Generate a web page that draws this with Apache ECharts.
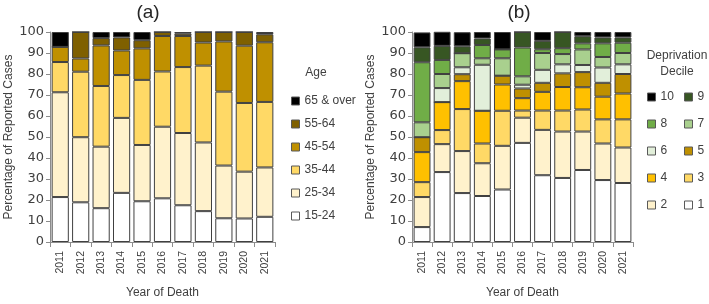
<!DOCTYPE html>
<html>
<head>
<meta charset="utf-8">
<script src="https://cdn.jsdelivr.net/npm/echarts@6/dist/echarts.min.js"></script>
<style>
  html, body { margin: 0; padding: 0; background: #fff; }
  #chart { width: 709px; height: 304px; }
</style>
</head>
<body>
<div id="chart"></div>
<script>
// years on the x axis (both panels)
const years = ['2011', '2012', '2013', '2014', '2015', '2016', '2017', '2018', '2019', '2020', '2021'];
const yTicks = [0, 10, 20, 30, 40, 50, 60, 70, 80, 90, 100];

// (a) age groups, % of reported cases, bottom -> top
const ageNames = ['15-24', '25-34', '35-44', '45-54', '55-64', '65 & over'];
const age15to24 = [21.4, 18.9, 16.1, 23.4, 19.4, 20.8, 17.5, 14.7, 11.3, 11.2, 12.0];
const age25to34 = [49.9, 31.0, 29.3, 35.7, 26.8, 34.1, 34.4, 32.7, 25.1, 22.3, 23.5];
const age35to44 = [14.4, 31.2, 28.9, 20.4, 31.0, 26.3, 31.4, 36.6, 35.2, 32.7, 31.2];
const age45to54 = [7.2, 6.3, 19.3, 11.7, 15.0, 16.9, 14.8, 11.0, 23.9, 27.3, 28.4];
const age55to64 = [0, 12.6, 3.5, 6.2, 3.9, 1.9, 1.1, 5.0, 4.5, 6.5, 3.8];
const age65plus = [7.1, 0, 2.9, 2.6, 3.9, 0, 0.8, 0, 0, 0, 1.1];

// (b) deprivation deciles, % of reported cases, bottom (1) -> top (10)
const decileNames = ['1', '2', '3', '4', '5', '6', '7', '8', '9', '10'];
const dec1 = [7.1, 33.3, 23.3, 21.9, 25.0, 47.2, 31.8, 30.5, 34.3, 29.5, 28.1];
const dec2 = [14.3, 13.3, 20.0, 15.6, 20.8, 12.0, 21.6, 22.1, 18.3, 17.4, 16.9];
const dec3 = [7.1, 6.7, 20.0, 9.4, 16.7, 3.4, 9.2, 10.0, 10.5, 11.5, 13.4];
const dec4 = [14.3, 13.3, 13.3, 15.6, 12.5, 5.9, 8.9, 11.2, 10.6, 10.8, 12.3];
const dec5 = [7.1, 0, 3.3, 0, 4.2, 4.6, 4.3, 6.5, 7.2, 6.6, 9.3];
const dec6 = [0, 6.7, 3.3, 21.9, 0, 1.8, 6.2, 4.3, 3.4, 7.3, 4.6];
const dec7 = [7.1, 6.7, 6.7, 3.1, 8.3, 4.0, 8.0, 4.9, 7.4, 5.0, 5.4];
const dec8 = [28.6, 6.7, 0, 6.3, 4.2, 13.7, 1.8, 2.8, 2.9, 6.5, 4.9];
const dec9 = [7.1, 6.7, 3.3, 3.1, 0, 7.4, 4.0, 7.7, 3.4, 2.8, 2.5];
const dec10 = [7.1, 6.7, 6.7, 3.1, 8.3, 0, 4.2, 0, 2.0, 2.6, 2.6];

const ageValues = [age15to24, age25to34, age35to44, age45to54, age55to64, age65plus];
const ageColors = ['#ffffff', '#fff2cc', '#ffd966', '#bf9000', '#7f6000', '#000000'];
const decValues = [dec1, dec2, dec3, dec4, dec5, dec6, dec7, dec8, dec9, dec10];
const decColors = ['#ffffff', '#fff2cc', '#ffd966', '#ffc000', '#bf9000',
                   '#e2efda', '#a9d08e', '#70ad47', '#375623', '#000000'];

const FONT = 'Liberation Sans';
const TXT = '#404040';
const AXIS = '#8c8c8c';
const EDGE = '#404040';

const chart = echarts.init(document.getElementById('chart'));

function xAxisFor(gridIndex) {
  return {
    type: 'category', gridIndex, data: years,
    name: 'Year of Death', nameLocation: 'middle', nameGap: 45,
    nameTextStyle: { color: TXT, fontSize: 12, fontFamily: FONT },
    axisLine: { lineStyle: { color: AXIS } },
    axisTick: { show: true, length: 5, lineStyle: { color: AXIS } },
    axisLabel: { rotate: 90, margin: 9, color: TXT, fontSize: 10.5, fontFamily: FONT }
  };
}

function yAxisFor(gridIndex) {
  return {
    type: 'value', gridIndex, min: yTicks[0], max: yTicks[yTicks.length - 1], interval: 10,
    name: 'Percentage of Reported Cases', nameLocation: 'middle', nameGap: 35, nameRotate: 90,
    nameTextStyle: { color: TXT, fontSize: 12, fontFamily: FONT },
    axisLine: { show: true, lineStyle: { color: AXIS } },
    axisTick: { show: true, length: 4, lineStyle: { color: AXIS } },
    splitLine: { show: false },
    axisLabel: { margin: 6, color: TXT, fontSize: 13, fontFamily: 'DejaVu Sans' }
  };
}

const series = [];
ageNames.forEach((name, i) => {
  series.push({
    name, type: 'bar', stack: 'age', xAxisIndex: 0, yAxisIndex: 0,
    data: ageValues[i], barCategoryGap: '16%',
    itemStyle: { color: ageColors[i], borderColor: EDGE, borderWidth: 1 }
  });
});
decileNames.forEach((name, i) => {
  series.push({
    name, type: 'bar', stack: 'dec', xAxisIndex: 1, yAxisIndex: 1,
    data: decValues[i], barCategoryGap: '16%',
    itemStyle: { color: decColors[i], borderColor: EDGE, borderWidth: 1 }
  });
});

const legendBase = {
  orient: 'vertical', selectedMode: false, icon: 'rect',
  itemWidth: 8, itemHeight: 8,
  itemStyle: { borderColor: '#595959', borderWidth: 1 },
  textStyle: { color: TXT, fontSize: 12, lineHeight: 14, fontFamily: FONT }
};

chart.setOption({
  animation: false,
  backgroundColor: '#ffffff',
  grid: [
    { left: 50, top: 32, width: 225, height: 215 },
    { left: 412, top: 32, width: 221, height: 216 }
  ],
  xAxis: [xAxisFor(0), xAxisFor(1)],
  yAxis: [yAxisFor(0), yAxisFor(1)],
  legend: [
    Object.assign({}, legendBase, { left: 286, top: 89, itemGap: 9,
      data: ['65 & over', '55-64', '45-54', '35-44', '25-34', '15-24'] }),
    Object.assign({}, legendBase, { left: 642, top: 85, itemGap: 13,
      data: ['10', '8', '6', '4', '2'] }),
    Object.assign({}, legendBase, { left: 679, top: 85, itemGap: 13,
      data: ['9', '7', '5', '3', '1'] })
  ],
  graphic: [
    { type: 'text', x: 148, y: 13, style: { text: '(a)', fill: '#262626', font: '19px "Liberation Sans"', align: 'center', verticalAlign: 'middle' } },
    { type: 'text', x: 519, y: 13, style: { text: '(b)', fill: '#262626', font: '19px "Liberation Sans"', align: 'center', verticalAlign: 'middle' } },
    { type: 'text', x: 316, y: 73, style: { text: 'Age', fill: TXT, font: '12px "Liberation Sans"', align: 'center', verticalAlign: 'middle' } },
    { type: 'text', x: 677, y: 56, style: { text: 'Deprivation', fill: TXT, font: '12px "Liberation Sans"', align: 'center', verticalAlign: 'middle' } },
    { type: 'text', x: 677, y: 72, style: { text: 'Decile', fill: TXT, font: '12px "Liberation Sans"', align: 'center', verticalAlign: 'middle' } }
  ],
  series
});
</script>
</body>
</html>
